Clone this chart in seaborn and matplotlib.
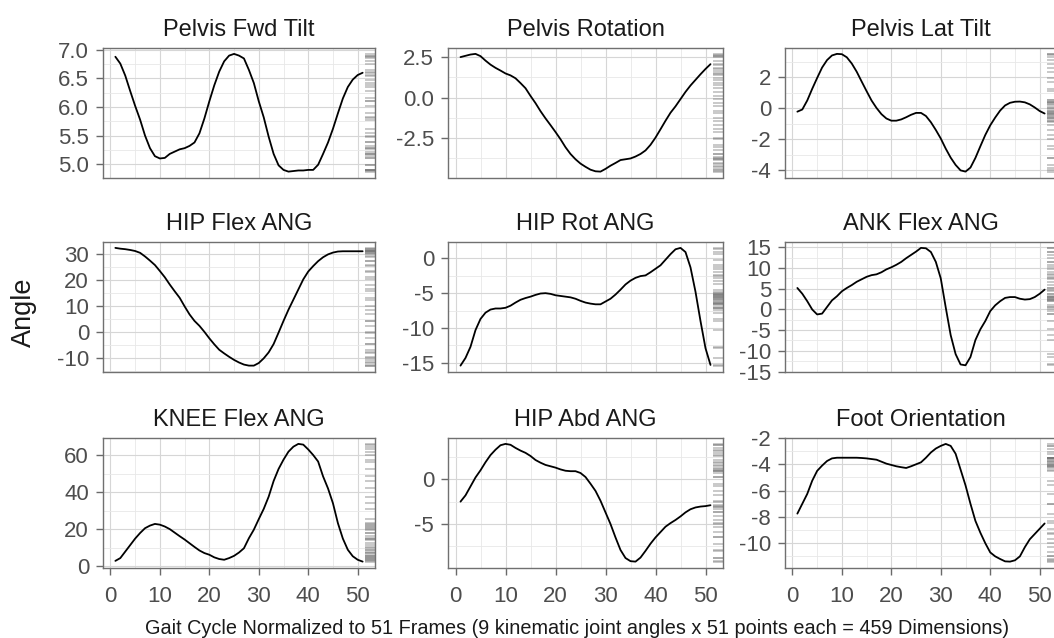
import numpy as np
import matplotlib
matplotlib.use("Agg")
import matplotlib.pyplot as plt
import seaborn as sns
from matplotlib.ticker import MultipleLocator, AutoMinorLocator

# =========================
# DATA (51 normalized frames per joint angle)
# =========================
frames = np.arange(1, 52)

titles = ["Pelvis Fwd Tilt", "Pelvis Rotation", "Pelvis Lat Tilt",
          "HIP Flex ANG", "HIP Rot ANG", "ANK Flex ANG",
          "KNEE Flex ANG", "HIP Abd ANG", "Foot Orientation"]

pelvis_fwd_tilt = [6.88, 6.76, 6.55, 6.28, 6.02, 5.78, 5.50, 5.28, 5.14, 5.10,
                   5.11, 5.18, 5.22, 5.26, 5.28, 5.32, 5.38, 5.54, 5.80, 6.10,
                   6.38, 6.62, 6.80, 6.90, 6.93, 6.90, 6.85, 6.65, 6.42, 6.10,
                   5.82, 5.48, 5.18, 4.98, 4.90, 4.87, 4.88, 4.89, 4.89, 4.90,
                   4.90, 4.99, 5.18, 5.38, 5.62, 5.89, 6.15, 6.35, 6.48, 6.56,
                   6.60]
pelvis_rotation = [2.52, 2.60, 2.68, 2.72, 2.58, 2.30, 2.05, 1.85, 1.68, 1.50,
                   1.38, 1.20, 0.90, 0.58, 0.10, -0.35, -0.85, -1.30, -1.72, -2.15,
                   -2.60, -3.10, -3.52, -3.85, -4.12, -4.32, -4.50, -4.60, -4.62, -4.45,
                   -4.25, -4.08, -3.90, -3.85, -3.80, -3.68, -3.52, -3.30, -2.95, -2.50,
                   -1.98, -1.45, -0.95, -0.55, -0.10, 0.35, 0.75, 1.10, 1.45, 1.78,
                   2.08]
pelvis_lat_tilt = [-0.22, -0.08, 0.50, 1.25, 1.95, 2.62, 3.10, 3.40, 3.50, 3.48,
                   3.28, 2.88, 2.35, 1.72, 1.10, 0.50, 0.02, -0.38, -0.66, -0.80,
                   -0.80, -0.72, -0.58, -0.42, -0.30, -0.30, -0.50, -0.90, -1.40, -1.95,
                   -2.60, -3.18, -3.65, -4.00, -4.08, -3.82, -3.20, -2.45, -1.72, -1.10,
                   -0.60, -0.15, 0.18, 0.35, 0.42, 0.43, 0.38, 0.25, 0.05, -0.18,
                   -0.34]
hip_flex = [32.3, 32.0, 31.8, 31.5, 31.1, 30.4, 29.0, 27.4, 25.7, 23.4,
            21.0, 18.2, 15.6, 13.1, 9.8, 6.7, 4.2, 2.3, 0.0, -2.5,
            -4.8, -6.9, -8.3, -9.6, -10.8, -11.8, -12.6, -13.0, -13.0, -12.0,
            -10.2, -7.9, -4.7, -0.3, 4.2, 8.5, 12.4, 16.3, 20.2, 23.2,
            25.3, 27.2, 28.7, 29.8, 30.5, 30.9, 31.0, 31.0, 31.0, 31.0,
            31.0]
hip_rot = [-15.4, -14.3, -12.7, -10.3, -8.7, -7.8, -7.35, -7.2, -7.2, -7.1,
           -6.8, -6.35, -5.95, -5.7, -5.5, -5.25, -5.05, -5.0, -5.1, -5.3,
           -5.4, -5.5, -5.6, -5.8, -6.1, -6.35, -6.5, -6.6, -6.6, -6.2,
           -5.8, -5.2, -4.5, -3.75, -3.2, -2.8, -2.55, -2.45, -2.0, -1.5,
           -1.0, -0.2, 0.6, 1.3, 1.5, 0.9, -1.3, -4.8, -9.0, -12.9,
           -15.3]
ank_flex = [5.2, 3.8, 2.0, 0.0, -1.2, -1.0, 0.6, 2.2, 3.2, 4.4,
            5.2, 5.9, 6.7, 7.3, 7.9, 8.3, 8.5, 9.0, 9.7, 10.2,
            10.8, 11.5, 12.4, 13.2, 14.0, 14.9, 14.8, 13.9, 11.5, 7.5,
            0.5, -6.2, -10.8, -13.3, -13.5, -11.5, -7.4, -4.8, -2.8, -0.4,
            1.0, 2.0, 2.8, 3.0, 3.0, 2.6, 2.4, 2.5, 3.0, 3.8,
            4.8]
knee_flex = [3.0, 4.5, 8.0, 11.5, 15.0, 18.0, 20.6, 22.0, 22.9, 22.5,
             21.5, 20.1, 18.2, 16.3, 14.5, 12.5, 10.5, 8.6, 7.2, 6.3,
             4.9, 4.0, 3.6, 4.5, 5.7, 7.5, 9.8, 15.2, 19.8, 25.5,
             31.0, 37.6, 46.0, 52.5, 57.5, 61.8, 64.5, 66.0, 65.6, 63.0,
             60.0, 56.5, 48.5, 42.0, 34.0, 23.3, 15.0, 9.0, 5.5, 3.6,
             2.6]
hip_abd = [-2.5, -1.8, -0.8, 0.2, 1.0, 1.9, 2.7, 3.3, 3.8, 3.95,
           3.85, 3.5, 3.2, 2.95, 2.6, 2.15, 1.85, 1.6, 1.45, 1.3,
           1.1, 0.95, 0.9, 0.9, 0.7, 0.25, -0.5, -1.3, -2.4, -3.7,
           -5.0, -6.5, -7.9, -8.8, -9.15, -9.2, -8.75, -8.0, -7.2, -6.5,
           -5.9, -5.3, -4.9, -4.55, -4.15, -3.7, -3.35, -3.15, -3.05, -3.0,
           -2.9]
foot_orient = [-7.75, -7.0, -6.25, -5.25, -4.5, -4.1, -3.75, -3.55, -3.5, -3.5,
               -3.5, -3.5, -3.5, -3.52, -3.55, -3.6, -3.65, -3.8, -3.95, -4.05,
               -4.15, -4.22, -4.28, -4.15, -4.0, -3.85, -3.5, -3.1, -2.8, -2.6,
               -2.45, -2.6, -3.2, -4.4, -5.6, -7.0, -8.3, -9.2, -10.0, -10.7,
               -11.0, -11.2, -11.38, -11.4, -11.3, -11.0, -10.3, -9.7, -9.3, -8.9,
               -8.5]

series = [pelvis_fwd_tilt, pelvis_rotation, pelvis_lat_tilt,
          hip_flex, hip_rot, ank_flex,
          knee_flex, hip_abd, foot_orient]

# y tick breaks per panel
y_breaks = [[5.0, 5.5, 6.0, 6.5, 7.0], [-2.5, 0.0, 2.5], [-4, -2, 0, 2],
            [-10, 0, 10, 20, 30], [-15, -10, -5, 0], [-15, -10, -5, 0, 5, 10, 15],
            [0, 20, 40, 60], [-5, 0], [-10, -8, -6, -4, -2]]
y_fmt = ["{:.1f}", "{:.1f}", "{:.0f}", "{:.0f}", "{:.0f}", "{:.0f}",
         "{:.0f}", "{:.0f}", "{:.0f}"]
x_breaks = [0, 10, 20, 30, 40, 50]

# =========================
# STYLE
# =========================
sns.set_theme(style="whitegrid")
plt.rcParams["font.family"] = ["Liberation Sans", "DejaVu Sans"]
plt.rcParams["axes.unicode_minus"] = False

W, H = 1054, 638
fig = plt.figure(figsize=(W / 100, H / 100), dpi=100)

col_left = [103, 448, 785]
col_w = [272, 275, 272]
row_top = [48, 242, 438]
row_h = 129.5

for i, (title, vals) in enumerate(zip(titles, series)):
    r, c = divmod(i, 3)
    ax = fig.add_axes([col_left[c] / W, 1 - (row_top[r] + row_h) / H,
                       col_w[c] / W, row_h / H])
    sns.lineplot(x=frames, y=vals, ax=ax, color="black", linewidth=1.3)
    # rug on the right side
    ax.hlines(vals, 0.965, 1.0, transform=ax.get_yaxis_transform(),
              colors="#777777", alpha=0.5, linewidth=1.1)

    lo, hi = min(vals), max(vals)
    pad = 0.05 * (hi - lo)
    ax.set_ylim(lo - pad, hi + pad)
    ax.set_xlim(-1.5, 53.5)

    ax.set_xticks(x_breaks)
    ax.xaxis.set_minor_locator(MultipleLocator(5))
    ax.set_yticks(y_breaks[i], labels=[y_fmt[i].format(v) for v in y_breaks[i]])
    ax.yaxis.set_minor_locator(AutoMinorLocator(2))

    ax.grid(which="major", color="#d6d6d6", linewidth=0.8)
    ax.grid(which="minor", color="#e8e8e8", linewidth=0.6)
    ax.set_axisbelow(True)
    for s in ax.spines.values():
        s.set_color("#707070")
        s.set_linewidth(1.0)

    ax.tick_params(axis="y", which="major", left=True, length=5, width=1,
                   color="#6a6a6a", pad=5, labelsize=16, labelcolor="#4d4d4d")
    if r == 2:
        ax.tick_params(axis="x", which="major", bottom=True, length=5, width=1,
                       color="#6a6a6a", pad=8, labelsize=16, labelcolor="#4d4d4d")
    else:
        ax.tick_params(axis="x", which="major", bottom=False, labelbottom=False)
    ax.tick_params(which="minor", length=0)

    ax.set_xlabel("")
    ax.set_ylabel("")
    ax.set_title(title, fontsize=17, color="#1a1a1a", pad=9)

fig.text(24 / W, 1 - 312 / H, "Angle", rotation=90, ha="center", va="center",
         fontsize=19.5, color="#1a1a1a")
fig.text(577 / W, 1 - 628 / H,
         "Gait Cycle Normalized to 51 Frames (9 kinematic joint angles x 51 points each = 459 Dimensions)",
         ha="center", va="center", fontsize=14.3, color="#1a1a1a")

fig.savefig("out.png", dpi=100)
